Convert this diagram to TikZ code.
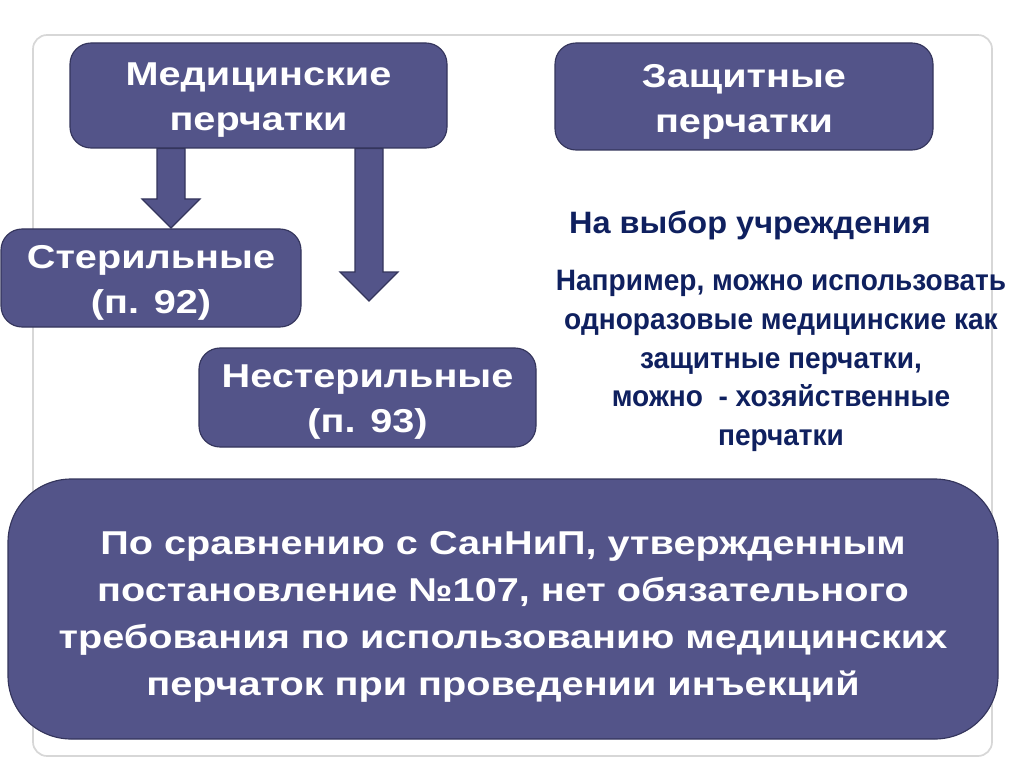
\documentclass[tikz,border=0pt]{standalone}
\usepackage{fontspec}
\setmainfont{Liberation Sans}
\newfontfamily\widefont{Liberation Sans}[FakeStretch=1.2]
\newfontfamily\titlefont{Liberation Sans}[FakeStretch=1.05]
\newfontfamily\narrowfont{Liberation Sans}[FakeStretch=0.95]
\usetikzlibrary{calc}
\definecolor{boxfill}{RGB}{83,84,137}
\definecolor{boxline}{RGB}{52,53,92}
\definecolor{navytext}{RGB}{15,32,95}
\definecolor{framegray}{RGB}{215,215,215}
\tikzset{
  box/.style={draw=boxline,fill=boxfill,thick,rounded corners=15,inner sep=0pt},
  notebox/.style={box,rounded corners=45},
  boxlbl/.style={text=white,align=center,inner sep=0pt,yshift=-3.5pt,
    font=\widefont\bfseries\fontsize{23.5}{32}\selectfont},
  notelbl/.style={boxlbl,yshift=-2pt,font=\widefont\bfseries\fontsize{23.5}{33.3}\selectfont},
  bluetext/.style={text=navytext,align=center,inner sep=0pt},
  arrfill/.style={draw=boxline,fill=boxfill,line width=0.8pt}
}
% block arrow pointing down: #1 tail anchor, #2 tip coordinate
\newcommand{\blockdown}[2]{%
  \filldraw[arrfill] ($(#2 |- #1)+(-14,0)$) -- ($(#2)+(-14,-29)$) -- ($(#2)+(-29,-29)$) -- (#2)
    -- ($(#2)+(29,-29)$) -- ($(#2)+(14,-29)$) -- ($(#2 |- #1)+(14,0)$) -- cycle;}

\begin{document}
\begin{tikzpicture}[x=0.025cm,y=-0.025cm]
  \useasboundingbox (0,0) rectangle (1024,767);
  \fill[white] (0,0) rectangle (1024,767);
  \draw[framegray,fill=white,line width=1.2pt,rounded corners=10] (33,35) rectangle (992,756);
  % boxes
  \node[box,minimum width=377*0.025cm,minimum height=105*0.025cm,
    label={[boxlbl]center:{Медицинские\\перчатки}}] (med) at (258.5,95.5) {};
  \node[box,minimum width=378*0.025cm,minimum height=107*0.025cm,
    label={[boxlbl]center:{Защитные\\перчатки}}] (zasch) at (744,96.5) {};
  \node[box,minimum width=300*0.025cm,minimum height=98*0.025cm,
    label={[boxlbl]center:{Стерильные\\(п. 92)}}] (steril) at (151,278) {};
  \node[box,minimum width=337*0.025cm,minimum height=99*0.025cm,
    label={[boxlbl]center:{Нестерильные\\(п. 93)}}] (nesteril) at (367.5,397.5) {};
  % arrows
  \coordinate (tipA) at (171,228);
  \coordinate (tipB) at (369,301);
  \blockdown{med.south}{tipA}
  \blockdown{med.south}{tipB}
  % right column
  \node[bluetext,font=\titlefont\bfseries\fontsize{22}{28}\selectfont] (choice) at (750,225) {На выбор учреждения};
  \node[bluetext,font=\narrowfont\bfseries\fontsize{21}{27.5}\selectfont] (example) at (781,361)
    {Например, можно использовать\\одноразовые медицинские как\\защитные перчатки,\\можно~ - хозяйственные\\перчатки};
  % bottom note
  \node[notebox,minimum width=990*0.025cm,minimum height=260*0.025cm,
    label={[notelbl]center:{По сравнению с СанНиП, утвержденным\\постановление №107, нет обязательного\\требования по использованию медицинских\\перчаток при проведении инъекций}}] (note) at (503,609) {};
\end{tikzpicture}
\end{document}
